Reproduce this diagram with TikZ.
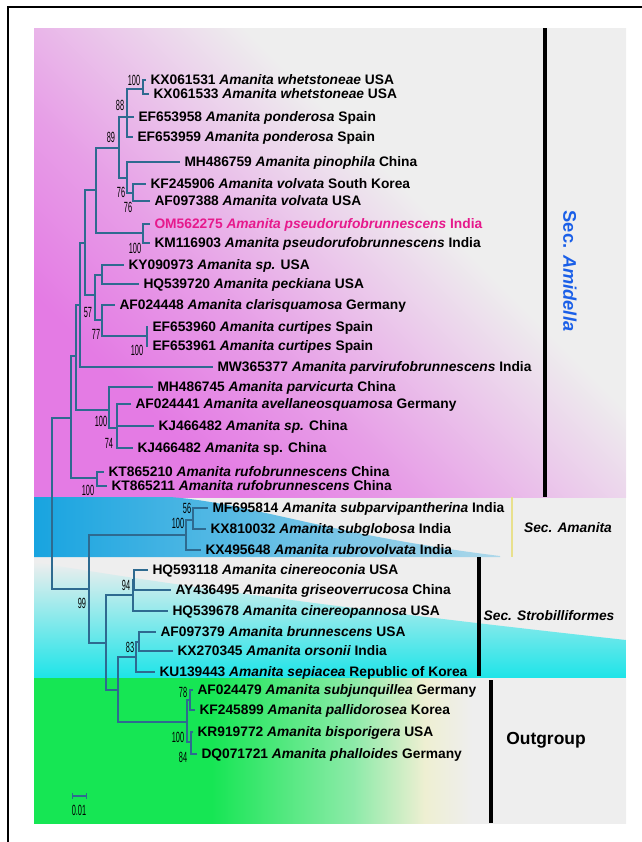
\documentclass[tikz,border=0pt]{standalone}
\usepackage{fontspec}
\setmainfont{Liberation Sans}
\newfontfamily\bsfont[FakeStretch=0.5]{Liberation Sans}
\usetikzlibrary{arrows.meta}
\definecolor{grayBG}{HTML}{EEEEEE}
\definecolor{amPink}{HTML}{E47BE4}
\definecolor{amBlue}{HTML}{18A4E0}
\definecolor{amCyan}{HTML}{1DE4E8}
\definecolor{amGreen}{HTML}{16E654}
\definecolor{creamY}{HTML}{EEEFD2}
\definecolor{treeBlue}{HTML}{2E6A90}
\definecolor{amMagenta}{HTML}{E6198C}
\definecolor{amidBlue}{HTML}{1A5FE8}
\definecolor{amYellow}{HTML}{E8E08C}
\pgfdeclareverticalshading{amidfade}{100bp}{color(0bp)=(amPink); color(28bp)=(amPink); color(40bp)=(amPink!70!grayBG); color(50bp)=(amPink!35!grayBG); color(60bp)=(grayBG); color(100bp)=(grayBG)}
\pgfdeclarehorizontalshading{greenfade}{100bp}{color(0bp)=(amGreen); color(40bp)=(amGreen); color(52bp)=(amGreen!45!grayBG); color(58bp)=(creamY); color(62bp)=(grayBG); color(100bp)=(grayBG)}
\tikzset{
  taxon/.style={anchor=west, inner xsep=3pt, inner ysep=0pt, text height=7pt, text depth=0pt,
    font=\fontsize{9.8}{11}\selectfont\bfseries},
  bs/.style={inner sep=0pt, font=\fontsize{10.5}{10.5}\bsfont, text=black},
  branch/.style={draw=treeBlue, line width=0.8pt},
  clade/.style={font=\fontsize{9.8}{11}\selectfont\bfseries\itshape},
}
\begin{document}
\begin{tikzpicture}[x=0.025cm, y=-0.025cm]
  \useasboundingbox (0,0) rectangle (642,842);
  \fill[grayBG] (34,28) rectangle (626,823);
  \shade[shading=amidfade, shading angle=-45] (34,28) rectangle (626,497);
  \shade[left color=amBlue, middle color=amBlue, right color=amBlue!30!grayBG]
    (34,497) -- (170,497) .. controls (250,503) and (330,535) .. (500,556) -- (500,557) -- (34,557) -- cycle;
  \shade[top color=grayBG, middle color=amCyan!75!grayBG, bottom color=amCyan]
    (34,562) .. controls (200,590) and (400,615) .. (626,640) -- (626,678) -- (34,678) -- cycle;
  \shade[shading=greenfade] (34,678) rectangle (626,823);
  \draw[line width=1pt] (8,842) -- (8,7) -- (642,7);

  \node[taxon] (KX061531) at (146,80) {KX061531 \textit{Amanita whetstoneae} USA};
  \node[taxon] (KX061533) at (149,94) {KX061533 \textit{Amanita whetstoneae} USA};
  \node[taxon] (EF653958) at (134,117) {EF653958 \textit{Amanita ponderosa} Spain};
  \node[taxon] (EF653959) at (133,137) {EF653959 \textit{Amanita ponderosa} Spain};
  \node[taxon] (MH486759) at (180,162) {MH486759 \textit{Amanita pinophila} China};
  \node[taxon] (KF245906) at (146,184) {KF245906 \textit{Amanita volvata} South Korea};
  \node[taxon] (AF097388) at (150,201) {AF097388 \textit{Amanita volvata} USA};
  \node[taxon, text=amMagenta] (OM562275) at (150,224) {OM562275 \textit{Amanita pseudorufobrunnescens} India};
  \node[taxon] (KM116903) at (150,243) {KM116903 \textit{Amanita pseudorufobrunnescens} India};
  \node[taxon] (KY090973) at (124,265) {KY090973 \textit{Amanita sp.} USA};
  \node[taxon] (HQ539720) at (139,284) {HQ539720 \textit{Amanita peckiana} USA};
  \node[taxon] (AF024448) at (115,305) {AF024448 \textit{Amanita clarisquamosa} Germany};
  \node[taxon] (EF653960) at (148,327) {EF653960 \textit{Amanita curtipes} Spain};
  \node[taxon] (EF653961) at (148,346) {EF653961 \textit{Amanita curtipes} Spain};
  \node[taxon] (MW365377) at (213,367) {MW365377 \textit{Amanita parvirufobrunnescens} India};
  \node[taxon] (MH486745) at (153,387) {MH486745 \textit{Amanita parvicurta} China};
  \node[taxon] (AF024441) at (131,404) {AF024441 \textit{Amanita avellaneosquamosa} Germany};
  \node[taxon] (KJ466482a) at (154,426) {KJ466482 \textit{Amanita sp.} China};
  \node[taxon] (KJ466482b) at (133,448) {KJ466482 \textit{Amanita} sp. China};
  \node[taxon] (KT865210) at (104,472) {KT865210 \textit{Amanita rufobrunnescens} China};
  \node[taxon] (KT865211) at (107,486) {KT865211 \textit{Amanita rufobrunnescens} China};
  \node[taxon] (MF695814) at (208,508) {MF695814 \textit{Amanita subparvipantherina} India};
  \node[taxon] (KX810032) at (206,529) {KX810032 \textit{Amanita subglobosa} India};
  \node[taxon] (KX495648) at (201,550) {KX495648 \textit{Amanita rubrovolvata} India};
  \node[taxon] (HQ593118) at (148,570) {HQ593118 \textit{Amanita cinereoconia} USA};
  \node[taxon] (AY436495) at (171,590) {AY436495 \textit{Amanita griseoverrucosa} China};
  \node[taxon] (HQ539678) at (168,611) {HQ539678 \textit{Amanita cinereopannosa} USA};
  \node[taxon] (AF097379) at (156,632) {AF097379 \textit{Amanita brunnescens} USA};
  \node[taxon] (KX270345) at (173,651) {KX270345 \textit{Amanita orsonii} India};
  \node[taxon] (KU139443) at (155,672) {KU139443 \textit{Amanita sepiacea} Republic of Korea};
  \node[taxon] (AF024479) at (193,690) {AF024479 \textit{Amanita subjunquillea} Germany};
  \node[taxon] (KF245899) at (195,710) {KF245899 \textit{Amanita pallidorosea} Korea};
  \node[taxon] (KR919772) at (193,732) {KR919772 \textit{Amanita bisporigera} USA};
  \node[taxon] (DQ071721) at (197,754) {DQ071721 \textit{Amanita phalloides} Germany};

  \coordinate (nW) at (143,89);
  \coordinate (nP) at (127,117);
  \coordinate (nV) at (133,193);
  \coordinate (nPV) at (127,178);
  \coordinate (nA) at (119,148);
  \coordinate (nOM) at (143,233);
  \coordinate (nB) at (96,190);
  \coordinate (nKY) at (102,275);
  \coordinate (nCu) at (147,336);
  \coordinate (nAF) at (102,320);
  \coordinate (nK) at (95,295);
  \coordinate (nC) at (85,243);
  \coordinate (nD) at (80,305);
  \coordinate (nKJ) at (117,428);
  \coordinate (nMH) at (109,410);
  \coordinate (nF) at (76,356);
  \coordinate (nRu) at (97,478);
  \coordinate (nE) at (71,418);
  \coordinate (root) at (52,503);
  \coordinate (nAm2) at (193,520);
  \coordinate (nAm) at (186,535);
  \coordinate (nCi2) at (134,580);
  \coordinate (nCi) at (133,595);
  \coordinate (nBr2) at (139,642);
  \coordinate (nBr) at (136,657);
  \coordinate (nO1) at (190,700);
  \coordinate (nO2) at (191,742);
  \coordinate (nO) at (187,722);
  \coordinate (nS) at (118,690);
  \coordinate (nT) at (106,643);
  \coordinate (nG) at (89,589);

  \begin{scope}[branch]
    \draw (nW) |- (KX061531);
    \draw (nW) |- (KX061533);
    \draw (nP) |- (nW);
    \draw (nP) |- (EF653958);
    \draw (nP) |- (EF653959);
    \draw (nV) |- (KF245906);
    \draw (nV) |- (AF097388);
    \draw (nPV) |- (MH486759);
    \draw (nPV) |- (nV);
    \draw (nA) |- (nP);
    \draw (nA) |- (nPV);
    \draw (nOM) |- (OM562275);
    \draw (nOM) |- (KM116903);
    \draw (nB) |- (nA);
    \draw (nB) |- (nOM);
    \draw (nKY) |- (KY090973);
    \draw (nKY) |- (HQ539720);
    \draw (nCu) |- (EF653960);
    \draw (nCu) |- (EF653961);
    \draw (nAF) |- (AF024448);
    \draw (nAF) |- (nCu);
    \draw (nK) |- (nKY);
    \draw (nK) |- (nAF);
    \draw (nC) |- (nB);
    \draw (nC) |- (nK);
    \draw (nD) |- (nC);
    \draw (nD) |- (MW365377);
    \draw (nKJ) |- (AF024441);
    \draw (nKJ) |- (KJ466482a);
    \draw (nKJ) |- (KJ466482b);
    \draw (nMH) |- (MH486745);
    \draw (nMH) |- (nKJ);
    \draw (nF) |- (nD);
    \draw (nF) |- (nMH);
    \draw (nRu) |- (KT865210);
    \draw (nRu) |- (KT865211);
    \draw (nE) |- (nF);
    \draw (nE) |- (nRu);
    \draw (root) |- (nE);
    \draw (root) |- (nG);
    \draw (nAm2) |- (MF695814);
    \draw (nAm2) |- (KX810032);
    \draw (nAm) |- (nAm2);
    \draw (nAm) |- (KX495648);
    \draw (nCi2) |- (HQ593118);
    \draw (nCi2) |- (AY436495);
    \draw (nCi) |- (nCi2);
    \draw (nCi) |- (HQ539678);
    \draw (nBr2) |- (AF097379);
    \draw (nBr2) |- (KX270345);
    \draw (nBr) |- (nBr2);
    \draw (nBr) |- (KU139443);
    \draw (nO1) |- (AF024479);
    \draw (nO1) |- (KF245899);
    \draw (nO2) |- (KR919772);
    \draw (nO2) |- (DQ071721);
    \draw (nO) |- (nO1);
    \draw (nO) |- (nO2);
    \draw (nS) |- (nBr);
    \draw (nS) |- (nO);
    \draw (nT) |- (nCi);
    \draw (nT) |- (nS);
    \draw (nG) |- (nAm);
    \draw (nG) |- (nT);
  \end{scope}

  \node[bs] (bs1) at (134,80) {100};
  \node[bs] (bs2) at (120,105) {88};
  \node[bs] (bs3) at (111,137) {89};
  \node[bs] (bs4) at (121,192) {76};
  \node[bs] (bs5) at (128,207) {76};
  \node[bs] (bs6) at (135,248) {100};
  \node[bs] (bs7) at (88,312) {57};
  \node[bs] (bs8) at (96,334) {77};
  \node[bs] (bs9) at (137,350) {100};
  \node[bs] (bs10) at (101,421) {100};
  \node[bs] (bs11) at (109,443) {74};
  \node[bs] (bs12) at (88,490) {100};
  \node[bs] (bs13) at (187,508) {56};
  \node[bs] (bs14) at (178,523) {100};
  \node[bs] (bs15) at (82,603) {99};
  \node[bs] (bs16) at (126,585) {94};
  \node[bs] (bs17) at (130,647) {83};
  \node[bs] (bs18) at (183,692) {78};
  \node[bs] (bs19) at (178,737) {100};
  \node[bs] (bs20) at (183,757) {84};

  \coordinate (sbL) at (72,796);
  \coordinate (sbR) at (87,796);
  \draw[branch, {Bar[width=4pt]}-{Bar[width=4pt]}] (sbL) -- (sbR);
  \node[bs] (sbLabel) at (79,810) {0.01};

  \draw[line width=2.2pt] (545,28) -- (545,497);
  \draw[line width=1.5pt, amYellow] (512,497) -- (512,557);
  \draw[line width=2.2pt] (479,557) -- (479,676);
  \draw[line width=2.2pt] (491,680) -- (491,823);

  \node[rotate=-90, text=amidBlue, font=\fontsize{13}{13}\selectfont\bfseries] (secAmid) at (570,271) {Sec. \textit{Amidella}};
  \node[clade] (secAman) at (568,528) {Sec. Amanita};
  \node[clade] (secStrob) at (549,616) {Sec. Strobilliformes};
  \node[font=\fontsize{12.4}{13}\selectfont\bfseries] (outgrp) at (546,740) {Outgroup};
\end{tikzpicture}
\end{document}
